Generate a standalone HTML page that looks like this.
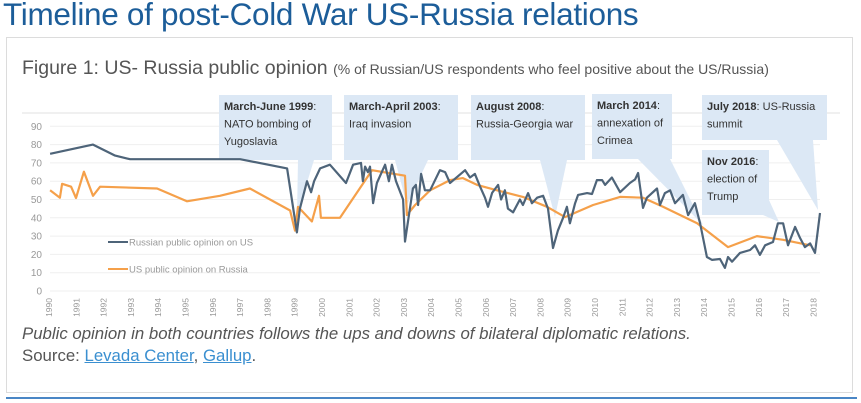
<!DOCTYPE html>
<html><head><meta charset="utf-8">
<style>
body{margin:0;width:861px;height:403px;background:#fff;font-family:"Liberation Sans",sans-serif;position:relative;overflow:hidden}
#title{position:absolute;left:3px;top:-4px;font-size:31.5px;color:#1c5d99;white-space:nowrap;letter-spacing:-0.3px}
#frame{position:absolute;left:6px;top:37px;width:847px;height:356px;border:1px solid #dcdcdc;box-sizing:border-box}
#ftitle{position:absolute;left:22px;top:57px;font-size:19.5px;color:#555;white-space:nowrap}
#ftitle span{font-size:14px}
#cap{position:absolute;left:22px;top:324px;font-size:16.8px;color:#555;font-style:italic;white-space:nowrap}
#src{position:absolute;left:22px;top:346px;font-size:16.8px;color:#555;white-space:nowrap}
#src a{color:#3a8fd0;text-decoration:underline}
#bline{position:absolute;left:6px;top:397px;width:851px;height:2px;background:#4a86c5}
svg{position:absolute;left:0;top:0}
</style></head><body>
<div id="title">Timeline of post-Cold War US-Russia relations</div>
<div id="frame"></div>
<div id="ftitle">Figure 1: US- Russia public opinion <span>(% of Russian/US respondents who feel positive about the US/Russia)</span></div>
<svg id="chart" width="861" height="403"></svg>
<div id="cap">Public opinion in both countries follows the ups and downs of bilateral diplomatic relations.</div>
<div id="src">Source: <a>Levada Center</a>, <a>Gallup</a>.</div>
<div id="bline"></div>
<script>
const yTicks=[0,10,20,30,40,50,60,70,80,90];
const years=[1990,1991,1992,1993,1994,1995,1996,1997,1998,1999,2000,2001,2002,2003,2004,2005,2006,2007,2008,2009,2010,2011,2012,2013,2014,2015,2016,2017,2018];
const ruT=[1990.04,1991.61,1992.42,1992.97,1997.0,1998.72,1999.08,1999.19,1999.45,1999.6,1999.71,1999.93,2000.29,2000.88,2001.14,2001.43,2001.5,2001.58,2001.68,2001.76,2001.87,2002.01,2002.31,2002.45,2002.56,2002.71,2002.97,2003.04,2003.22,2003.33,2003.44,2003.52,2003.63,2003.77,2003.96,2004.32,2004.51,2004.69,2005.24,2005.42,2005.6,2005.79,2005.97,2006.08,2006.23,2006.45,2006.56,2006.7,2006.81,2007.0,2007.25,2007.36,2007.55,2007.69,2007.88,2008.1,2008.28,2008.46,2008.64,2008.83,2008.97,2009.08,2009.27,2009.38,2009.71,2009.89,2010.07,2010.26,2010.37,2010.62,2010.92,2011.28,2011.47,2011.58,2011.76,2011.9,2012.27,2012.38,2012.56,2012.75,2012.93,2013.22,2013.41,2013.66,2013.85,2014.1,2014.29,2014.58,2014.76,2014.87,2015.02,2015.31,2015.68,2015.86,2016.04,2016.23,2016.52,2016.7,2016.89,2017.07,2017.33,2017.51,2017.69,2017.88,2018.06,2018.24];
const ruV=[75,80,74,72,72,67,32,45,60,54,60,67,69,59,69,70,60,68,65,68,48,59,69,60,69,60,50,27,45,56,58,47,64,55,55,66,65,59,66,62,64,57,51,46,53.6,58,50,55,45,43,50,47,53.5,48,51,52,45,23.5,33,40,46,37,48,52.5,53.5,53,60.6,60.6,58,62,54,59,61,64.5,45.4,51,56,47,53.5,55,48,52.5,41.5,48,37,18.6,17,17.5,12.6,18.6,16,20.8,22.4,25,19.7,25,26.8,37,37,25,35,29,24,26,20.8,42.6];
const usT=[1990.04,1990.4,1990.48,1990.81,1990.99,1991.28,1991.61,1991.87,1993.96,1995.05,1996.26,1997.36,1998.83,1999.01,1999.12,1999.63,1999.89,1999.96,2000.66,2001.83,2003.04,2003.11,2003.41,2003.96,2004.69,2005.16,2005.68,2006.41,2007.36,2008.24,2008.9,2009.93,2010.92,2011.76,2012.49,2013.74,2014.87,2015.93,2016.89,2017.88];
const usV=[55,51,58.6,57,50.8,65.2,52,57,56,49,52,56,44,33,46,38,52,40,40,66,63,41.5,47,55,60.6,61.7,58,55,51.4,46,40.4,47,51.4,51,46,37,24,30,28,25];
const NS="http://www.w3.org/2000/svg";
const svg=document.getElementById('chart');
const X=y=>49+(y-1990)*27.3;
const Y=v=>291-v*1.83;
function mk(t,a){const e=document.createElementNS(NS,t);for(const k in a)e.setAttribute(k,a[k]);svg.appendChild(e);return e;}
let e=mk('line',{x1:22,x2:840,y1:113,y2:113,stroke:'#e2e2e2'});


yTicks.forEach(v=>{
 let g=mk('line',{x1:50,x2:820,y1:Y(v),y2:Y(v),stroke:'#efefef','stroke-width':1});
 
 
 let t=mk('text',{x:42,y:Y(v)+3.5,'text-anchor':'end','font-size':10,fill:'#999'});
 t.textContent=v;
 
 
});
years.forEach(yr=>{
 let t=mk('text',{x:0,y:0,'text-anchor':'end','font-size':8.5,fill:'#999',transform:`translate(${X(yr)+3},298) rotate(-90)`});
 t.textContent=yr;
 
 
});
const callouts=[
 {name:'callout-1999',box:[219,95,332,160],tri:[[298,160],[314,160],[297,215]],lines:[['March-June 1999',':'],['NATO bombing of',''],['Yugoslavia','']]},
 {name:'callout-2003',box:[344,95,458,160],tri:[[395,160],[428,160],[407,205]],lines:[['March-April 2003',':'],['Iraq invasion','']]},
 {name:'callout-2008',box:[471,95,585,160],tri:[[540,160],[567,160],[555,217]],lines:[['August 2008',':'],['Russia-Georgia war','']]},
 {name:'callout-2014',box:[592,94,672,159],tri:[[638,159],[670,159],[703,225]],lines:[['March 2014',':'],['annexation of',''],['Crimea','']]},
 {name:'callout-2018',box:[702,95,827,140],tri:[[777,140],[813,140],[818,210]],lines:[['July 2018',': US-Russia'],['summit','']]},
 {name:'callout-2016',box:[702,150,769,215],tri:[[763,215],[769,200],[779,222]],lines:[['Nov 2016',':'],['election of',''],['Trump','']]}
];
callouts.forEach(c=>{
 const [x1,y1,x2,y2]=c.box;
 let r=mk('rect',{x:x1,y:y1,width:x2-x1,height:y2-y1,fill:'#dce8f5'});
 
 
 let p=mk('polygon',{points:c.tri.map(q=>q.join(',')).join(' '),fill:'#dce8f5'});
 
 
 c.lines.forEach((l,i)=>{
  let t=mk('text',{x:x1+5,y:y1+15+i*17.5,'font-size':11,fill:'#333'});
  if(i===0){const b=document.createElementNS(NS,'tspan');b.setAttribute('font-weight','bold');b.textContent=l[0];t.appendChild(b);const s=document.createElementNS(NS,'tspan');s.textContent=l[1];t.appendChild(s);}
  else t.textContent=l[0]+l[1];
  
  
 });
});
function path(T,V){return T.map((t,i)=>(i?'L':'M')+X(t).toFixed(1)+','+Y(V[i]).toFixed(1)).join(' ');}
let us=mk('path',{d:path(usT,usV),fill:'none',stroke:'#f5a04a','stroke-width':2.2,'stroke-linejoin':'round'});


let ru=mk('path',{d:path(ruT,ruV),fill:'none',stroke:'#4e6479','stroke-width':2.2,'stroke-linejoin':'round'});


[['Russian public opinion on US','#4e6479',242],['US public opinion on Russia','#f5a04a',269]].forEach(l=>{
 let ln=mk('line',{x1:108,x2:128,y1:l[2],y2:l[2],stroke:l[1],'stroke-width':2});
 
 
 let t=mk('text',{x:129,y:l[2]+3.5,'font-size':9.5,fill:'#999'});
 t.textContent=l[0];
 
 
});
</script>
</body></html>
